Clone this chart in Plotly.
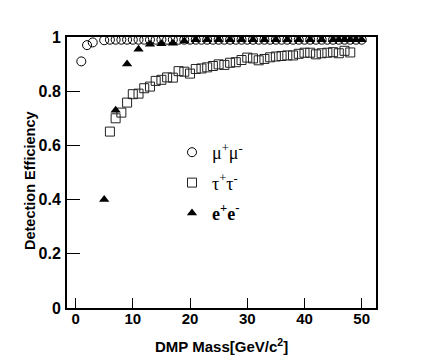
import plotly.graph_objects as go

# ---- data ----
mu_mass = [1, 2, 3, 5, 6, 7, 8, 9, 10, 11, 12, 13, 14, 15, 16, 17, 18, 19, 20,
           21, 22, 23, 24, 25, 26, 27, 28, 29, 30, 31, 32, 33, 34, 35, 36, 37, 38,
           39, 40, 41, 42, 43, 44, 45, 46, 47, 48, 49, 50]
mu_eff = [0.91, 0.97, 0.98, 0.988, 0.99, 0.99, 0.99, 0.99, 0.99, 0.99, 0.99, 0.99,
          0.99, 0.99, 0.99, 0.99, 0.99, 0.99, 0.99, 0.99, 0.99, 0.99, 0.99, 0.99,
          0.99, 0.99, 0.99, 0.99, 0.99, 0.99, 0.99, 0.99, 0.99, 0.99, 0.99, 0.99,
          0.99, 0.99, 0.99, 0.99, 0.99, 0.99, 0.99, 0.99, 0.99, 0.99, 0.99, 0.99, 0.99]

tau_mass = [6, 7, 8, 9, 10, 11, 12, 13, 14, 15, 16, 17, 18, 19, 20, 21, 22, 23, 24,
            25, 26, 27, 28, 29, 30, 31, 32, 33, 34, 35, 36, 37, 38, 39, 40, 41, 42,
            43, 44, 45, 46, 47, 48]
tau_eff = [0.651, 0.700, 0.721, 0.758, 0.789, 0.791, 0.811, 0.817, 0.838, 0.842,
           0.851, 0.850, 0.874, 0.872, 0.865, 0.882, 0.884, 0.888, 0.893, 0.899,
           0.897, 0.905, 0.907, 0.915, 0.924, 0.921, 0.914, 0.919, 0.925, 0.928,
           0.930, 0.932, 0.932, 0.938, 0.942, 0.942, 0.936, 0.940, 0.942, 0.944,
           0.940, 0.949, 0.943]

ee_mass = [5, 7, 9, 11, 13, 15, 17, 19, 21, 23, 25, 27, 29, 31, 33, 35, 37, 39, 41,
           43, 45, 46, 47, 48, 49, 50]
ee_eff = [0.40, 0.73, 0.90, 0.955, 0.973, 0.975, 0.977, 0.985, 0.99, 0.99, 0.99,
          0.99, 0.99, 0.99, 0.99, 0.99, 0.99, 0.99, 0.99, 0.99, 0.99, 0.99, 0.99,
          0.99, 0.99, 0.99]

x_ticks = [0, 10, 20, 30, 40, 50]
y_ticks = [0, 0.2, 0.4, 0.6, 0.8, 1]

fig = go.Figure()
fig.add_trace(go.Scatter(
    x=mu_mass, y=mu_eff, mode="markers", name="\u03bc<sup>+</sup>\u03bc<sup>-</sup>",
    legendgroup="mu", legendrank=1,
    marker=dict(symbol="circle-open", size=9, color="black", line=dict(width=1))))
fig.add_trace(go.Scatter(
    x=tau_mass, y=tau_eff, mode="markers", name="\u03c4<sup>+</sup>\u03c4<sup>-</sup>",
    legendgroup="tau", legendrank=2,
    marker=dict(symbol="square-open", size=9, color="#222", line=dict(width=1))))
fig.add_trace(go.Scatter(
    x=ee_mass, y=ee_eff, mode="markers", name="<b>e<sup>+</sup>e<sup>-</sup></b>",
    legendgroup="ee", legendrank=3,
    marker=dict(symbol="triangle-up", size=9, color="black")))

# page body has an 8px margin; compensate so the plot box lands where the reference has it
L, R, T, B = 59, 65, 29, 54
W, H = 433, 354
PW, PH = W - L - R, H - T - B  # 309 x 271

fig.update_layout(
    width=W, height=H,
    margin=dict(l=L, r=R, t=T, b=B),
    paper_bgcolor="white", plot_bgcolor="white",
    showlegend=True,
    legend=dict(x=(172 - 67) / PW, y=(308 - 134) / PH, xanchor="left", yanchor="top",
                bgcolor="rgba(0,0,0,0)", borderwidth=0,
                traceorder="grouped", tracegroupgap=4,
                font=dict(family="Liberation Serif", size=18, color="black")),
    font=dict(family="Liberation Sans", color="black"),
)
fig.update_xaxes(
    range=[-1.5, 52.5], tickvals=x_ticks, ticks="inside", ticklen=10, tickwidth=1,
    tickcolor="black", showline=True, linecolor="black", linewidth=2, mirror=True,
    showgrid=False, zeroline=False, ticklabelstandoff=-4,
    tickfont=dict(family="Liberation Sans", size=15, weight="bold", color="black"))
fig.update_yaxes(
    range=[0, 1.0], tickvals=y_ticks, ticks="inside", ticklen=13, tickwidth=1,
    tickcolor="black", showline=True, linecolor="black", linewidth=2, mirror=True,
    showgrid=False, zeroline=False, ticklabelstandoff=1,
    tickfont=dict(family="Liberation Sans", size=16, weight="bold", color="black"))

fig.add_annotation(text="DMP Mass[GeV/c<sup>2</sup>]", xref="paper", yref="paper",
                   x=0.5, y=-(346 - 308) / PH, xanchor="center", yanchor="middle",
                   showarrow=False,
                   font=dict(family="Liberation Sans", size=15, weight="bold", color="black"))
fig.add_annotation(text="Detection Efficiency", xref="paper", yref="paper",
                   x=-(67 - 30) / PW, y=(308 - 181) / PH, xanchor="center", yanchor="middle",
                   textangle=-90, showarrow=False,
                   font=dict(family="Liberation Sans", size=14.5, weight="bold", color="black"))

fig.write_html("out.html")
